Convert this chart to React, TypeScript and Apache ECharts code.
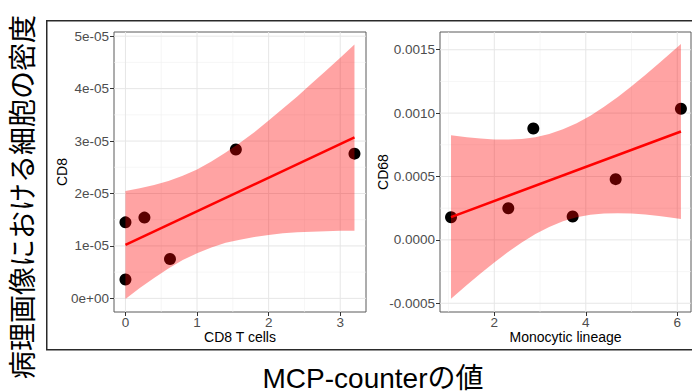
import { useEffect, useRef } from "react";
import * as echarts from "echarts";

// ---- Left panel: CD8 vs CD8 T cells ----
const leftPointsX = [0, 0, 0.265, 0.622, 1.542, 3.199];
const leftPointsY = [1.45e-5, 0.36e-5, 1.54e-5, 0.75e-5, 2.84e-5, 2.76e-5];
const leftFitX = [0, 3.199];
const leftFitY = [1.02e-5, 3.07e-5];
const leftBandX = [0, 0.2, 0.4, 0.6, 0.8, 1.0, 1.2, 1.4, 1.6, 1.8, 2.0, 2.2, 2.4, 2.6, 2.8, 3.0, 3.199];
const leftBandUpper = [2.05e-5, 2.1e-5, 2.16e-5, 2.24e-5, 2.34e-5, 2.46e-5, 2.61e-5, 2.78e-5, 2.97e-5, 3.17e-5, 3.39e-5, 3.62e-5, 3.85e-5, 4.1e-5, 4.34e-5, 4.59e-5, 4.84e-5];
const leftBandLower = [-0.01e-5, 0.2e-5, 0.39e-5, 0.57e-5, 0.73e-5, 0.86e-5, 0.97e-5, 1.06e-5, 1.12e-5, 1.17e-5, 1.21e-5, 1.24e-5, 1.26e-5, 1.27e-5, 1.28e-5, 1.29e-5, 1.29e-5];
const leftXTicks = [0, 1, 2, 3];
const leftXTickLabels = ["0", "1", "2", "3"];
const leftXMinor = [0.5, 1.5, 2.5];
const leftYTicks = [0, 1e-5, 2e-5, 3e-5, 4e-5, 5e-5];
const leftYTickLabels = ["0e+00", "1e-05", "2e-05", "3e-05", "4e-05", "5e-05"];
const leftYMinor = [0.5e-5, 1.5e-5, 2.5e-5, 3.5e-5, 4.5e-5];
const leftXName = "CD8 T cells";
const leftYName = "CD8";

// ---- Right panel: CD68 vs Monocytic lineage ----
const rightPointsX = [1.054, 2.306, 2.853, 3.713, 4.653, 6.08];
const rightPointsY = [1.79e-4, 2.5e-4, 8.79e-4, 1.84e-4, 4.79e-4, 10.35e-4];
const rightFitX = [1.054, 6.08];
const rightFitY = [1.8e-4, 8.55e-4];
const rightBandX = [1.054, 1.4, 1.7, 2.0, 2.3, 2.6, 2.9, 3.2, 3.5, 3.8, 4.1, 4.4, 4.7, 5.0, 5.3, 5.6, 5.85, 6.08];
const rightBandUpper = [8.25e-4, 8.09e-4, 7.99e-4, 7.92e-4, 7.91e-4, 7.96e-4, 8.1e-4, 8.35e-4, 8.72e-4, 9.2e-4, 9.8e-4, 10.5e-4, 11.28e-4, 12.12e-4, 13.01e-4, 13.94e-4, 14.73e-4, 15.46e-4];
const rightBandLower = [-4.65e-4, -3.56e-4, -2.65e-4, -1.78e-4, -0.96e-4, -0.21e-4, 0.46e-4, 1.02e-4, 1.46e-4, 1.78e-4, 1.98e-4, 2.09e-4, 2.11e-4, 2.08e-4, 2.0e-4, 1.88e-4, 1.76e-4, 1.64e-4];
const rightXTicks = [2, 4, 6];
const rightXTickLabels = ["2", "4", "6"];
const rightXMinor = [1, 3, 5];
const rightYTicks = [-0.0005, 0, 0.0005, 0.001, 0.0015];
const rightYTickLabels = ["-0.0005", "0.0000", "0.0005", "0.0010", "0.0015"];
const rightYMinor = [-0.00025, 0.00025, 0.00075, 0.00125];
const rightXName = "Monocytic lineage";
const rightYName = "CD68";

const yTitle = "病理画像における細胞の密度";
const xTitle = "MCP-counterの値";

const FONT = "'Liberation Sans', Arial, 'Noto Sans CJK JP', sans-serif";

function fmt(ticks: number[], labels: string[], tol: number) {
  return (v: number) => {
    const i = ticks.findIndex((t) => Math.abs(t - v) < tol);
    return i >= 0 ? labels[i] : "";
  };
}

function gridLines(idx: number, values: number[], vertical: boolean, ref: number, color: string, width: number) {
  return {
    type: "custom",
    xAxisIndex: idx,
    yAxisIndex: idx,
    z: 1,
    silent: true,
    data: values.map((v) => (vertical ? [v, ref] : [ref, v])),
    renderItem: (params: any, api: any) => {
      const cs = params.coordSys;
      const p = api.coord([api.value(0), api.value(1)]);
      if (vertical) {
        return { type: "line", shape: { x1: p[0], y1: cs.y, x2: p[0], y2: cs.y + cs.height }, style: { stroke: color, lineWidth: width } };
      }
      return { type: "line", shape: { x1: cs.x, y1: p[1], x2: cs.x + cs.width, y2: p[1] }, style: { stroke: color, lineWidth: width } };
    },
  };
}

function band(idx: number, xs: number[], up: number[], lo: number[]) {
  return {
    type: "custom",
    xAxisIndex: idx,
    yAxisIndex: idx,
    z: 3,
    silent: true,
    data: [[xs[0], lo[0]]],
    renderItem: (_params: any, api: any) => {
      const pts: number[][] = [];
      for (let i = 0; i < xs.length; i++) pts.push(api.coord([xs[i], up[i]]));
      for (let i = xs.length - 1; i >= 0; i--) pts.push(api.coord([xs[i], lo[i]]));
      return { type: "polygon", shape: { points: pts }, style: { fill: "rgba(255,0,0,0.36)" } };
    },
  };
}

function xAxis(idx: number, min: number, max: number, ticks: number[], labels: string[], name: string) {
  return {
    type: "value",
    gridIndex: idx,
    min,
    max,
    name,
    nameLocation: "middle",
    nameGap: 18,
    nameMoveOverlap: false,
    nameTextStyle: { color: "#000", fontSize: 14, fontFamily: FONT },
    axisLine: { show: false, onZero: false },
    axisTick: { show: true, customValues: ticks, length: 4, lineStyle: { color: "#333", width: 1 } },
    axisLabel: { customValues: ticks, formatter: fmt(ticks, labels, 1e-6), color: "#4d4d4d", fontSize: 13.5, margin: 4, fontFamily: FONT },
    splitLine: { show: false },
  };
}

function yAxis(idx: number, min: number, max: number, ticks: number[], labels: string[], name: string, gap: number, tol: number) {
  return {
    type: "value",
    gridIndex: idx,
    min,
    max,
    name,
    nameLocation: "middle",
    nameGap: gap,
    nameRotate: 90,
    nameMoveOverlap: false,
    nameTextStyle: { color: "#000", fontSize: 14, fontFamily: FONT },
    axisLine: { show: false, onZero: false },
    axisTick: { show: true, customValues: ticks, length: 4, lineStyle: { color: "#333", width: 1 } },
    axisLabel: { customValues: ticks, formatter: fmt(ticks, labels, tol), color: "#4d4d4d", fontSize: 13.5, margin: 5, fontFamily: FONT },
    splitLine: { show: false },
  };
}

function panelSeries(idx: number, px: number[], py: number[], fx: number[], fy: number[], bx: number[], bu: number[], bl: number[],
  xMaj: number[], xMin: number[], yMaj: number[], yMin: number[], xRef: number, yRef: number) {
  return [
    gridLines(idx, xMin, true, yRef, "#f0f0f0", 0.6),
    gridLines(idx, yMin, false, xRef, "#f0f0f0", 0.6),
    gridLines(idx, xMaj, true, yRef, "#e6e6e6", 1),
    gridLines(idx, yMaj, false, xRef, "#e6e6e6", 1),
    {
      type: "scatter",
      xAxisIndex: idx,
      yAxisIndex: idx,
      z: 2,
      symbolSize: 12,
      itemStyle: { color: "#000", opacity: 1 },
      data: px.map((x, i) => [x, py[i]]),
    },
    band(idx, bx, bu, bl),
    {
      type: "line",
      xAxisIndex: idx,
      yAxisIndex: idx,
      z: 4,
      showSymbol: false,
      symbol: "none",
      lineStyle: { color: "#ff0000", width: 2.5 },
      data: fx.map((x, i) => [x, fy[i]]),
    },
  ];
}

export default function App() {
  const ref = useRef<HTMLDivElement>(null);
  useEffect(() => {
    if (!ref.current) return;
    const chart = echarts.init(ref.current, null, { renderer: "svg" });
    const option: any = {
      animation: false,
      backgroundColor: "#ffffff",
      textStyle: { fontFamily: FONT },
      grid: [
        { left: 114, top: 32, width: 252, height: 280, show: true, backgroundColor: "#fff", borderColor: "#5a5a5a", borderWidth: 1, containLabel: false, outerBoundsMode: "none" },
        { left: 440, top: 32, width: 251, height: 280, show: true, backgroundColor: "#fff", borderColor: "#5a5a5a", borderWidth: 1, containLabel: false, outerBoundsMode: "none" },
      ],
      xAxis: [
        xAxis(0, -0.16, 3.36, leftXTicks, leftXTickLabels, leftXName),
        xAxis(1, 0.813, 6.3, rightXTicks, rightXTickLabels, rightXName),
      ],
      yAxis: [
        yAxis(0, -0.26e-5, 5.08e-5, leftYTicks, leftYTickLabels, leftYName, 45, 1e-9),
        yAxis(1, -0.000569, 0.00164, rightYTicks, rightYTickLabels, rightYName, 50, 1e-8),
      ],
      series: [
        ...panelSeries(0, leftPointsX, leftPointsY, leftFitX, leftFitY, leftBandX, leftBandUpper, leftBandLower,
          leftXTicks, leftXMinor, leftYTicks, leftYMinor, 1, 1e-5),
        ...panelSeries(1, rightPointsX, rightPointsY, rightFitX, rightFitY, rightBandX, rightBandUpper, rightBandLower,
          rightXTicks, rightXMinor, rightYTicks, rightYMinor, 3, 0),
      ],
      graphic: [
        {
          type: "rect",
          silent: true,
          z: 10,
          shape: { x: 46.75, y: 20.75, width: 700, height: 329 },
          style: { fill: "none", stroke: "#2a2a2a", lineWidth: 1.5 },
        },
        {
          type: "text",
          silent: true,
          x: 21,
          y: 197,
          rotation: Math.PI / 2,
          style: {
            text: yTitle,
            fill: "#000",
            font: "28px 'Noto Sans CJK JP', sans-serif",
            textAlign: "center",
            textVerticalAlign: "middle",
          },
        },
        {
          type: "text",
          silent: true,
          x: 373,
          y: 378,
          style: {
            text: xTitle,
            fill: "#000",
            font: "28px 'Liberation Sans', Arial, 'Noto Sans CJK JP', sans-serif",
            textAlign: "center",
            textVerticalAlign: "middle",
          },
        },
      ],
    };
    chart.setOption(option);
    return () => chart.dispose();
  }, []);
  return <div ref={ref} style={{ position: "fixed", left: 0, top: 0, width: 692, height: 392 }} />;
}
